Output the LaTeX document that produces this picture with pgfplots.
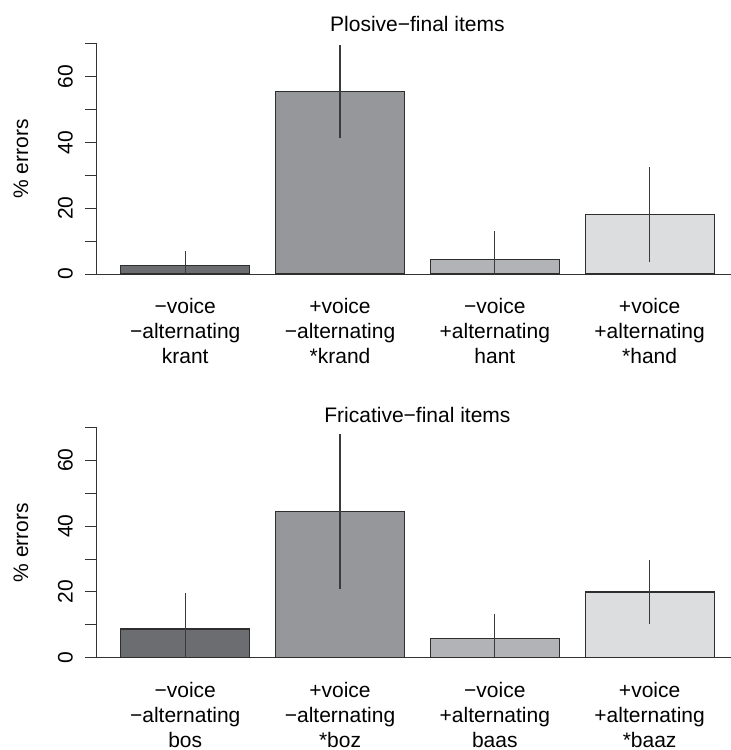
\documentclass[border=0pt]{standalone}
\usepackage{pgfplots}
\pgfplotsset{compat=1.18}
\usepackage{fontspec}
\setmainfont{Liberation Sans}
\definecolor{cA}{HTML}{6C6D70}
\definecolor{cB}{HTML}{96979A}
\definecolor{cC}{HTML}{B2B3B6}
\definecolor{cD}{HTML}{DCDDDF}
\definecolor{bord}{HTML}{2E2E2E}
\definecolor{errc}{HTML}{3A3A3A}
\definecolor{axc}{HTML}{333333}
\tikzset{ylabs/.style={rotate=90, anchor=base}}
\pgfplotsset{
  myaxis/.style={
    x=64.5pt, y=1.645pt,
    xmin=0.016, xmax=4.931, ymin=0, ymax=70,
    axis x line*=bottom, axis y line*=left,
    axis line style={draw=axc, line width=0.5pt},
    clip=false,
    tick align=outside, major tick length=6pt,
    ytick={0,10,...,70}, yticklabels={,,,,,,,},
    ytick style={draw=axc, line width=0.5pt},
    xtick={0.7,1.9,3.1,4.3},
    xtick style={draw=none},
    xticklabel style={align=center, anchor=north, inner sep=0pt, yshift=-6pt},
  },
  mybar/.style={ybar, bar width=1, bar shift=0pt, draw=bord, line width=0.6pt,
    error bars/.cd, y dir=both, y explicit, error mark=none,
    error bar style={draw=errc, line width=0.6pt}},
}
\begin{document}
\fontsize{10.5}{12.5}\selectfont
\begin{tikzpicture}
\useasboundingbox (-48.5pt,-238pt) rectangle (317pt,137pt);
% ---------- top panel ----------
\begin{axis}[myaxis, at={(0,0)}, anchor=south west,
  xticklabels={{−voice\\−alternating\\krant},{+voice\\−alternating\\*krand},{−voice\\+alternating\\hant},{+voice\\+alternating\\*hand}}]
\addplot[fill=cA, mybar] coordinates {(0.7,2.7) += (0,4.2) -= (0,2.7)};
\addplot[fill=cB, mybar] coordinates {(1.9,55.4) += (0,14.2) -= (0,14.2)};
\addplot[fill=cC, mybar] coordinates {(3.1,4.3) += (0,8.8) -= (0,4.3)};
\addplot[fill=cD, mybar] coordinates {(4.3,18.1) += (0,14.4) -= (0,14.4)};
\node[anchor=base] at (axis cs:2.5,73.65) {Plosive−final items};
\node[ylabs] at (axis cs:-0.172,0) {0};
\node[ylabs] at (axis cs:-0.172,20) {20};
\node[ylabs] at (axis cs:-0.172,40) {40};
\node[ylabs] at (axis cs:-0.172,60) {60};
\node[ylabs] at (axis cs:-0.517,35) {\% errors};
\end{axis}
% ---------- bottom panel ----------
\begin{axis}[myaxis, at={(0,-191.85pt)}, anchor=south west,
  xticklabels={{−voice\\−alternating\\bos},{+voice\\−alternating\\*boz},{−voice\\+alternating\\baas},{+voice\\+alternating\\*baaz}}]
\addplot[fill=cA, mybar] coordinates {(0.7,8.7) += (0,11.1) -= (0,8.7)};
\addplot[fill=cB, mybar] coordinates {(1.9,44.4) += (0,23.5) -= (0,23.5)};
\addplot[fill=cC, mybar] coordinates {(3.1,5.9) += (0,7.4) -= (0,5.9)};
\addplot[fill=cD, mybar] coordinates {(4.3,20.0) += (0,9.8) -= (0,9.9)};
\node[anchor=base] at (axis cs:2.5,71.6) {Fricative−final items};
\node[ylabs] at (axis cs:-0.172,0) {0};
\node[ylabs] at (axis cs:-0.172,20) {20};
\node[ylabs] at (axis cs:-0.172,40) {40};
\node[ylabs] at (axis cs:-0.172,60) {60};
\node[ylabs] at (axis cs:-0.517,35) {\% errors};
\end{axis}
\end{tikzpicture}
\end{document}
